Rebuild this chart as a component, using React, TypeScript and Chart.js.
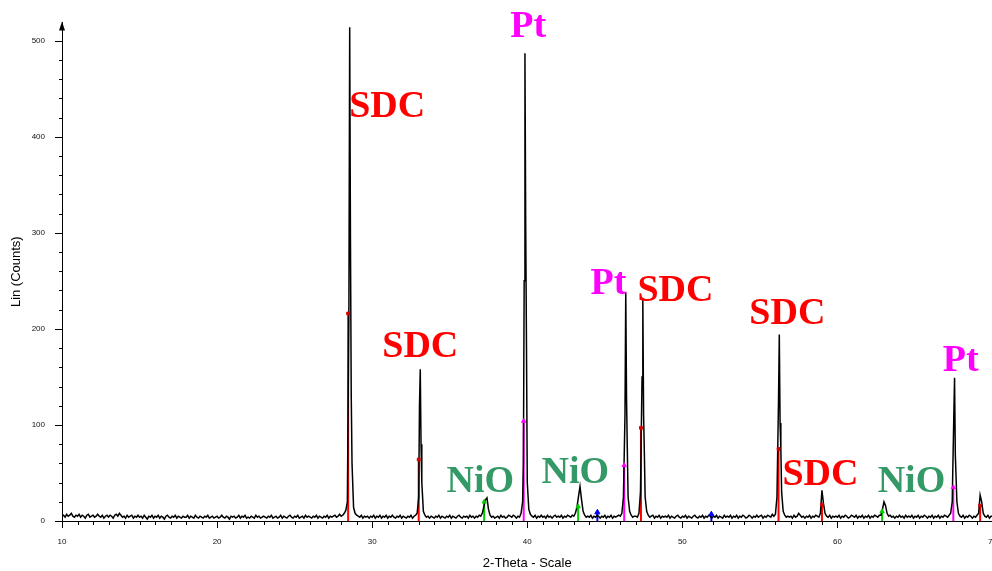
import React, { useEffect, useRef } from 'react';
import { Chart, registerables } from 'chart.js';

Chart.register(...registerables);

// ---- Data -------------------------------------------------------------
const THETA_START = 10;
const THETA_STEP = 0.1;
const X_MIN = 10;
const X_MAX = 70;
const Y_MIN = 0;
const Y_MAX = 519;

// Lin (Counts) sampled every 0.1 deg 2-theta, from 10.0 to 70.0
const scanCounts = [
  5, 6, 4, 7, 5, 6, 8, 5, 4, 6, // 10
  5, 7, 4, 6, 5, 3, 6, 7, 4, 5, // 11
  6, 4, 5, 7, 5, 4, 6, 3, 5, 6, // 12
  4, 6, 5, 3, 6, 7, 5, 8, 6, 4, // 13
  5, 3, 6, 4, 5, 6, 3, 5, 4, 6, // 14
  4, 5, 3, 6, 4, 2, 5, 4, 6, 3, // 15
  5, 4, 6, 3, 5, 4, 2, 5, 6, 4, // 16
  3, 5, 4, 6, 3, 5, 4, 3, 5, 4, // 17
  4, 6, 3, 5, 4, 3, 6, 4, 3, 5, // 18
  4, 3, 5, 4, 6, 3, 4, 5, 3, 4, // 19
  5, 3, 4, 6, 4, 3, 5, 4, 2, 5, // 20
  4, 5, 3, 4, 6, 3, 5, 4, 6, 3, // 21
  4, 3, 5, 4, 3, 6, 4, 5, 3, 4, // 22
  5, 4, 3, 5, 4, 6, 3, 4, 5, 3, // 23
  4, 6, 3, 5, 4, 3, 5, 6, 4, 3, // 24
  5, 4, 6, 3, 4, 5, 3, 6, 4, 5, // 25
  4, 3, 5, 4, 6, 3, 5, 4, 3, 5, // 26
  4, 6, 3, 5, 4, 5, 6, 4, 5, 7, // 27
  5, 6, 8, 11, 20, 225, 290, 60, 14, 8, // 28
  6, 5, 4, 6, 3, 5, 4, 5, 3, 5, // 29
  4, 6, 3, 5, 4, 6, 3, 5, 4, 6, // 30
  3, 5, 4, 6, 4, 3, 5, 4, 6, 3, // 31
  5, 4, 3, 5, 4, 6, 3, 5, 6, 8, // 32
  25, 158, 40, 10, 6, 4, 5, 3, 5, 4, // 33
  3, 5, 4, 6, 3, 5, 4, 3, 5, 4, // 34
  6, 3, 5, 4, 3, 5, 6, 4, 3, 5, // 35
  4, 5, 3, 6, 4, 5, 3, 5, 4, 6, // 36
  5, 8, 15, 22, 24, 12, 6, 4, 5, 3, // 37
  4, 5, 3, 6, 4, 5, 3, 4, 6, 5, // 38
  4, 6, 5, 3, 5, 4, 8, 20, 250, 305, // 39
  40, 12, 7, 5, 4, 6, 3, 5, 4, 6, // 40
  4, 5, 3, 6, 4, 5, 3, 5, 6, 4, // 41
  5, 4, 6, 3, 5, 4, 6, 5, 4, 6, // 42
  5, 8, 14, 25, 36, 22, 10, 6, 4, 5, // 43
  4, 6, 3, 5, 4, 6, 5, 3, 5, 4, // 44
  6, 3, 5, 4, 6, 3, 5, 4, 5, 6, // 45
  5, 8, 25, 110, 128, 25, 10, 6, 4, 5, // 46
  5, 4, 8, 30, 150, 110, 25, 10, 6, 4, // 47
  5, 6, 3, 5, 4, 6, 3, 5, 4, 5, // 48
  4, 6, 3, 5, 4, 3, 5, 6, 4, 3, // 49
  5, 4, 6, 3, 5, 4, 3, 5, 6, 4, // 50
  3, 5, 4, 6, 3, 5, 4, 6, 5, 3, // 51
  5, 4, 6, 3, 5, 4, 3, 6, 4, 5, // 52
  4, 6, 3, 5, 4, 6, 3, 5, 4, 6, // 53
  5, 3, 4, 6, 5, 3, 5, 4, 6, 4, // 54
  5, 6, 3, 5, 4, 6, 5, 4, 7, 5, // 55
  7, 25, 126, 102, 30, 10, 6, 4, 5, 4, // 56
  5, 3, 6, 4, 5, 8, 6, 4, 5, 3, // 57
  5, 4, 6, 3, 5, 4, 6, 5, 4, 8, // 58
  32, 18, 8, 5, 4, 6, 3, 5, 4, 5, // 59
  4, 6, 3, 5, 4, 6, 5, 3, 4, 6, // 60
  5, 4, 6, 3, 5, 4, 6, 3, 5, 4, // 61
  6, 3, 5, 4, 6, 5, 4, 6, 6, 12, // 62
  20, 16, 8, 5, 6, 4, 5, 3, 5, 4, // 63
  6, 4, 5, 3, 6, 4, 5, 4, 6, 3, // 64
  5, 4, 6, 3, 5, 4, 6, 5, 3, 5, // 65
  4, 6, 3, 5, 4, 6, 3, 5, 4, 6, // 66
  5, 4, 6, 8, 20, 108, 69, 20, 8, 5, // 67
  4, 6, 3, 5, 4, 6, 5, 3, 5, 4, // 68
  6, 8, 27, 20, 8, 5, 4, 6, 3, 5, // 69
  5, // 70
];

// Extra samples at the sharp peak tops (between the 0.1 deg grid points)
const peakTheta = [28.55, 28.65, 33.05, 33.15, 39.75, 39.85, 39.95, 46.35, 46.45, 47.45, 47.55, 56.25, 56.35, 67.55];
const peakCounts = [514, 130, 120, 80, 60, 487, 180, 238, 75, 232, 70, 194, 75, 149];

// Reference pattern sticks
const sdcStickTheta = [28.45, 33.0, 47.33, 56.2, 59.0, 69.2];
const sdcStickCounts = [216, 64, 97, 75, 17, 16];
const ptStickTheta = [39.77, 46.25, 67.47];
const ptStickCounts = [104, 58, 35];
const nioStickTheta = [37.22, 43.28, 62.88];
const nioStickCounts = [20, 15, 10];
const otherStickTheta = [44.52, 51.87];
const otherStickCounts = [9, 7];

// Phase labels
const labelText = ['SDC', 'SDC', 'NiO', 'Pt', 'NiO', 'Pt', 'SDC', 'SDC', 'SDC', 'NiO', 'Pt'];
const labelTheta = [30.97, 33.1, 36.97, 40.06, 43.1, 45.23, 49.55, 56.77, 58.9, 64.77, 67.94];
const labelCounts = [431, 181, 40, 514, 50, 247, 239, 215, 48, 40, 166];

const X_TITLE = '2-Theta - Scale';
const Y_TITLE = 'Lin (Counts)';

const PHASE_COLORS: Record<string, string> = {
  SDC: '#ff0000',
  Pt: '#ff00ff',
  NiO: '#339966',
};

// ---- Helpers -----------------------------------------------------------
function sticks(theta: number[], counts: number[]) {
  const out: { x: number; y: number | null }[] = [];
  theta.forEach((t, i) => {
    out.push({ x: t, y: 0 }, { x: t, y: counts[i] }, { x: t, y: null });
  });
  return out;
}
function tops(theta: number[], counts: number[]) {
  return theta.map((t, i) => ({ x: t, y: counts[i] }));
}

const axesPlugin = {
  id: 'xrdAxes',
  afterDraw(chart: any) {
    const { ctx, chartArea, scales } = chart;
    const xs = scales.x;
    const ys = scales.y;
    ctx.save();
    ctx.strokeStyle = '#000';
    ctx.lineWidth = 1;
    ctx.beginPath();
    for (let v = X_MIN; v <= X_MAX; v += 1) {
      const px = Math.round(xs.getPixelForValue(v)) + 0.5;
      const len = v % 10 === 0 ? 7 : 4;
      ctx.moveTo(px, chartArea.bottom);
      ctx.lineTo(px, chartArea.bottom + len);
    }
    for (let v = 0; v <= 500; v += 20) {
      const py = Math.round(ys.getPixelForValue(v)) + 0.5;
      const len = v % 100 === 0 ? 7 : 3;
      ctx.moveTo(chartArea.left - len, py);
      ctx.lineTo(chartArea.left, py);
    }
    ctx.stroke();
    // arrow head on the y axis
    ctx.fillStyle = '#000';
    ctx.beginPath();
    ctx.moveTo(chartArea.left, chartArea.top - 1);
    ctx.lineTo(chartArea.left - 3, chartArea.top + 8);
    ctx.lineTo(chartArea.left + 3, chartArea.top + 8);
    ctx.closePath();
    ctx.fill();

    // phase labels
    ctx.font = 'bold 38px "Liberation Serif", "Times New Roman", serif';
    ctx.textAlign = 'center';
    ctx.textBaseline = 'middle';
    labelText.forEach((txt, i) => {
      ctx.fillStyle = PHASE_COLORS[txt];
      ctx.fillText(txt, xs.getPixelForValue(labelTheta[i]), ys.getPixelForValue(labelCounts[i]));
    });
    ctx.restore();
  },
};

export default function App() {
  const canvasRef = useRef<HTMLCanvasElement | null>(null);

  useEffect(() => {
    const canvas = canvasRef.current;
    if (!canvas) return;

    const scan = scanCounts.map((c, i) => ({ x: +(THETA_START + i * THETA_STEP).toFixed(2), y: c }));
    const extra = peakTheta.map((t, i) => ({ x: t, y: peakCounts[i] }));
    const pattern = scan.concat(extra).sort((a, b) => a.x - b.x);

    const tickFont = { family: '"Liberation Sans", Arial, sans-serif', size: 8 };
    const titleFont = { family: '"Liberation Sans", Arial, sans-serif', size: 13 };

    const chart = new Chart(canvas, {
      type: 'scatter',
      data: {
        datasets: [
          {
            label: 'markers-sdc',
            data: tops(sdcStickTheta, sdcStickCounts),
            showLine: false,
            pointStyle: 'rect',
            pointRadius: 2,
            pointBackgroundColor: '#d40000',
            pointBorderColor: '#d40000',
            order: 0,
          },
          {
            label: 'markers-pt',
            data: tops(ptStickTheta, ptStickCounts),
            showLine: false,
            pointStyle: 'triangle',
            pointRadius: 2.5,
            pointBackgroundColor: '#ff00ff',
            pointBorderColor: '#ff00ff',
            order: 0,
          },
          {
            label: 'markers-nio',
            data: tops(nioStickTheta, nioStickCounts),
            showLine: false,
            pointStyle: 'triangle',
            pointRadius: 2.5,
            pointBackgroundColor: '#00cc00',
            pointBorderColor: '#00cc00',
            order: 0,
          },
          {
            label: 'markers-other',
            data: tops(otherStickTheta, otherStickCounts),
            showLine: false,
            pointStyle: 'triangle',
            pointRadius: 3,
            pointBackgroundColor: '#0000ff',
            pointBorderColor: '#0000ff',
            order: 0,
          },
          {
            label: 'scan',
            data: pattern,
            showLine: true,
            borderColor: '#000000',
            borderWidth: 1.5,
            pointRadius: 0,
            tension: 0,
            order: 1,
          },
          {
            label: 'sdc',
            data: sticks(sdcStickTheta, sdcStickCounts),
            showLine: true,
            spanGaps: false,
            borderColor: '#ff0000',
            borderWidth: 2,
            pointRadius: 0,
            order: 2,
          },
          {
            label: 'pt',
            data: sticks(ptStickTheta, ptStickCounts),
            showLine: true,
            spanGaps: false,
            borderColor: '#ff00ff',
            borderWidth: 2,
            pointRadius: 0,
            order: 2,
          },
          {
            label: 'nio',
            data: sticks(nioStickTheta, nioStickCounts),
            showLine: true,
            spanGaps: false,
            borderColor: '#00cc00',
            borderWidth: 2,
            pointRadius: 0,
            order: 2,
          },
          {
            label: 'other',
            data: sticks(otherStickTheta, otherStickCounts),
            showLine: true,
            spanGaps: false,
            borderColor: '#0000ff',
            borderWidth: 2,
            pointRadius: 0,
            order: 2,
          },
        ],
      },
      options: {
        animation: false,
        responsive: false,
        maintainAspectRatio: false,
        devicePixelRatio: 1,
        layout: { padding: { top: 22.4, right: 8, left: 0, bottom: 0 } },
        plugins: {
          legend: { display: false },
          tooltip: { enabled: false },
          title: { display: false },
        },
        scales: {
          x: {
            type: 'linear',
            min: X_MIN,
            max: X_MAX,
            afterFit: (scale: any) => {
              scale.height = 50;
            },
            grid: { display: true, drawOnChartArea: false, drawTicks: true, tickLength: 7, color: 'rgba(0,0,0,0)' },
            border: { display: true, color: '#000', width: 1 },
            ticks: {
              stepSize: 10,
              padding: 9,
              maxRotation: 0,
              autoSkip: false,
              color: '#111',
              font: tickFont,
              callback: (v: any) => (Number(v) % 10 === 0 ? String(v) : ''),
            },
            title: { display: true, text: X_TITLE, color: '#000', font: titleFont, padding: { top: 0, bottom: 0 } },
          },
          y: {
            type: 'linear',
            min: Y_MIN,
            max: Y_MAX,
            afterFit: (scale: any) => {
              scale.width = 62;
            },
            grid: { display: true, drawOnChartArea: false, drawTicks: true, tickLength: 7, color: 'rgba(0,0,0,0)' },
            border: { display: true, color: '#000', width: 1 },
            ticks: {
              stepSize: 100,
              includeBounds: false,
              padding: 10,
              color: '#111',
              font: tickFont,
              callback: (v: any) => (Number(v) % 100 === 0 ? String(v) : ''),
            },
            title: { display: true, text: Y_TITLE, color: '#000', font: titleFont, padding: { top: 9, bottom: 0 } },
          },
        },
      },
      plugins: [axesPlugin],
    } as any);

    return () => {
      chart.destroy();
    };
  }, []);

  return (
    <div
      style={{
        position: 'absolute',
        left: 0,
        top: 0,
        width: 992,
        height: 571,
        overflow: 'hidden',
        background: '#ffffff',
      }}
    >
      <canvas ref={canvasRef} width={1006} height={571} style={{ display: 'block', width: 1006, height: 571 }} />
    </div>
  );
}
